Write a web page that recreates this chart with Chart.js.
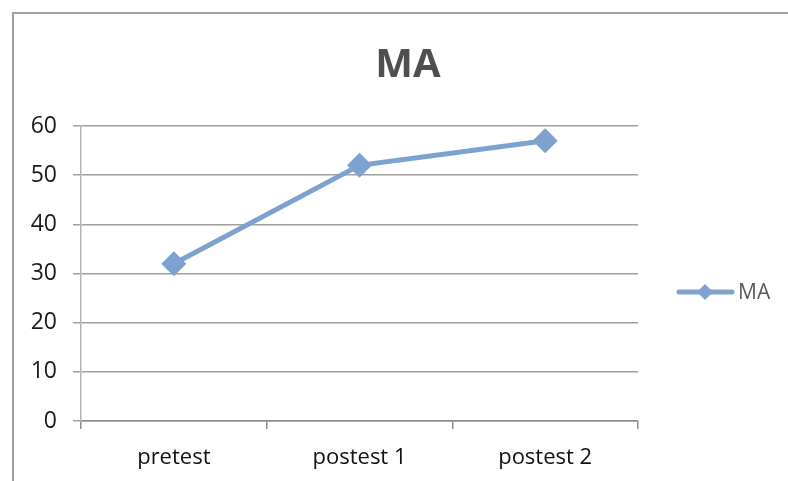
<!DOCTYPE html>
<html>
<head>
<meta charset="utf-8">
<script src="https://cdn.jsdelivr.net/npm/chart.js@4/dist/chart.umd.min.js"></script>
<style>
    body { margin: 0; background: #fff; overflow: hidden; }
    #wrap { position: absolute; left: 0; top: 0; width: 788px; height: 481px; }
    #frame { position: absolute; left: 12px; top: 12px; width: 800px; height: 500px;
             border-left: 2px solid #a0a0a0; border-top: 2px solid #a0a0a0; }
</style>
</head>
<body>
<div id="wrap">
    <div id="frame"></div>
    <canvas id="maChart"></canvas>
</div>
<script>
const chartTitle = 'MA';
const categories = ['pretest', 'postest 1', 'postest 2'];
const maValues = [32, 52, 57];
const yMin = 0;
const yMax = 60;
const yStep = 10;

const lineColor = '#7da2cf';

// Title and legend drawn on the canvas so they land where the original has them
const extrasPlugin = {
    id: 'extras',
    afterDraw(chart) {
        const ctx = chart.ctx;
        ctx.save();
        ctx.font = 'bold 40px "Open Sans"';
        ctx.fillStyle = '#4f4f4f';
        ctx.textAlign = 'center';
        ctx.textBaseline = 'middle';
        ctx.fillText(chartTitle, 408, 66);

        // legend: line with diamond, then label
        const ds = chart.data.datasets[0];
        const ly = 292;
        ctx.strokeStyle = ds.borderColor;
        ctx.lineWidth = 5;
        ctx.lineCap = 'round';
        ctx.beginPath();
        ctx.moveTo(679, ly);
        ctx.lineTo(732, ly);
        ctx.stroke();
        ctx.fillStyle = ds.pointBackgroundColor;
        ctx.beginPath();
        ctx.moveTo(705, ly - 8);
        ctx.lineTo(713, ly);
        ctx.lineTo(705, ly + 8);
        ctx.lineTo(697, ly);
        ctx.closePath();
        ctx.fill();
        ctx.font = '21px "Open Sans"';
        ctx.fillStyle = '#595959';
        ctx.textAlign = 'left';
        ctx.fillText(ds.label, 738, ly + 1);
        ctx.restore();
    }
};

new Chart(document.getElementById('maChart'), {
    type: 'line',
    data: {
        labels: categories,
        datasets: [{
            label: 'MA',
            data: maValues,
            borderColor: lineColor,
            backgroundColor: lineColor,
            pointBackgroundColor: lineColor,
            pointBorderColor: lineColor,
            pointStyle: 'rectRot',
            pointRadius: 9,
            pointHoverRadius: 9,
            borderWidth: 5,
            tension: 0
        }]
    },
    options: {
        responsive: true,
        maintainAspectRatio: false,
        animation: false,
        layout: { padding: { top: 126, right: 150, left: 0, bottom: 0 } },
        plugins: {
            legend: { display: false },
            title: { display: false },
            tooltip: { enabled: false }
        },
        scales: {
            x: {
                offset: true,
                grid: {
                    offset: true,
                    drawOnChartArea: false,
                    drawTicks: true,
                    tickLength: 8,
                    color: '#8c8c8c',
                    lineWidth: 1.5
                },
                border: { display: true, color: '#8c8c8c', width: 1.5 },
                ticks: {
                    color: '#111',
                    font: { family: 'Open Sans', size: 22 },
                    padding: 16,
                    maxRotation: 0
                },
                afterFit(scale) { scale.height = 60; }
            },
            y: {
                min: yMin,
                max: yMax,
                grid: {
                    color: '#a0a0a0',
                    lineWidth: 1.5,
                    tickLength: 8
                },
                border: { display: true, color: '#b4b4b4', width: 1.5 },
                ticks: {
                    stepSize: yStep,
                    color: '#1a1a1a',
                    font: { family: 'Open Sans', size: 23 },
                    padding: 16
                },
                afterFit(scale) { scale.width = 81; }
            }
        }
    },
    plugins: [extrasPlugin]
});
</script>
</body>
</html>
